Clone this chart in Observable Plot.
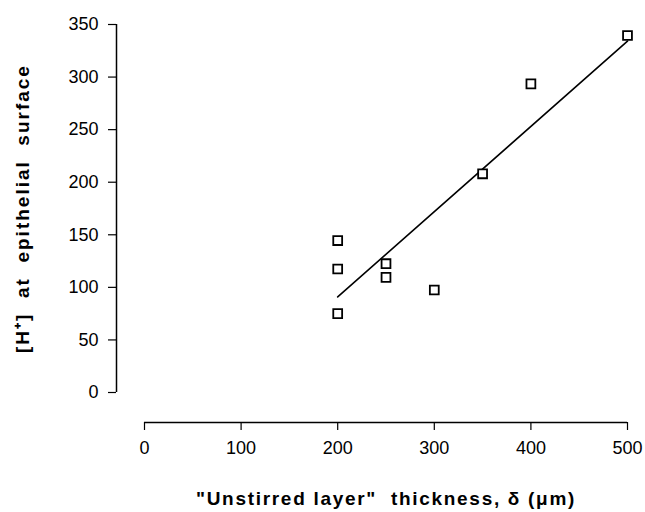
<!DOCTYPE html>
<html>
<head>
<meta charset="utf-8">
<script src="https://cdn.jsdelivr.net/npm/d3@7"></script>
<script src="https://cdn.jsdelivr.net/npm/@observablehq/plot@0.6"></script>
<style>
  html, body { margin: 0; padding: 0; background: #fff; }
  svg { display: block; }
  .ytitle text { letter-spacing: 2px; }
  .xtitle text { letter-spacing: 1.7px; }
</style>
</head>
<body>
<div id="chart"></div>
<script>
// Data
const thickness = [200, 200, 200, 250, 250, 300, 350, 400, 500];       // δ (µm)
const hConc     = [144.5, 117.5, 75, 122.5, 109.5, 97.5, 208, 293.5, 339.5]; // [H+]
const xTicks = [0, 100, 200, 300, 400, 500];
const yTicks = [0, 50, 100, 150, 200, 250, 300, 350];
const xTitle = "\"Unstirred layer\"  thickness, \u03b4 (\u03bcm)";
const yTitle = "[H\u207a]  at  epithelial  surface";

const data = thickness.map((x, i) => ({x, y: hConc[i]}));
const font = "Liberation Sans, Arial, Helvetica, sans-serif";

const chart = Plot.plot({
  width: 645,
  height: 512,
  marginLeft: 116,
  marginRight: 18,
  marginTop: 24,
  marginBottom: 90,
  style: {fontFamily: font, color: "#000", background: "#fff"},
  x: {domain: [0, 500], range: [144, 627]},
  y: {domain: [0, 350], range: [392, 24]},
  marks: [
    // axis lines (offset from the data origin, as in the original)
    Plot.ruleX([0], {y1: 0, y2: 350, dx: -28, stroke: "#000", strokeWidth: 1.5}),
    Plot.ruleY([0], {x1: 0, x2: 500, dy: 30, stroke: "#000", strokeWidth: 1.5}),
    Plot.axisY({anchor: "left", ticks: yTicks, tickSize: 8, tickPadding: 10, fontSize: 18, label: null, stroke: "#000", strokeWidth: 1.2}),
    Plot.axisX({anchor: "bottom", ticks: xTicks, tickSize: 8, tickPadding: 11, fontSize: 18, label: null, stroke: "#000", strokeWidth: 1.2}),
    Plot.linearRegressionY(data, {x: "x", y: "y", ci: 0, stroke: "#000", strokeWidth: 1.6}),
    Plot.dot(data, {x: "x", y: "y", symbol: "square", r: 5, stroke: "#000", strokeWidth: 1.8, fill: "#fff"}),
    Plot.text([yTitle], {frameAnchor: "left", textAnchor: "middle", rotate: -90, dx: -94, dy: -15, fontSize: 19, fontWeight: "bold", fill: "#000", className: "ytitle"}),
    Plot.text([xTitle], {frameAnchor: "bottom", dx: 14, dy: 82, fontSize: 19, fontWeight: "bold", fill: "#000", className: "xtitle"})
  ]
});
document.getElementById("chart").appendChild(chart);
</script>
</body>
</html>
